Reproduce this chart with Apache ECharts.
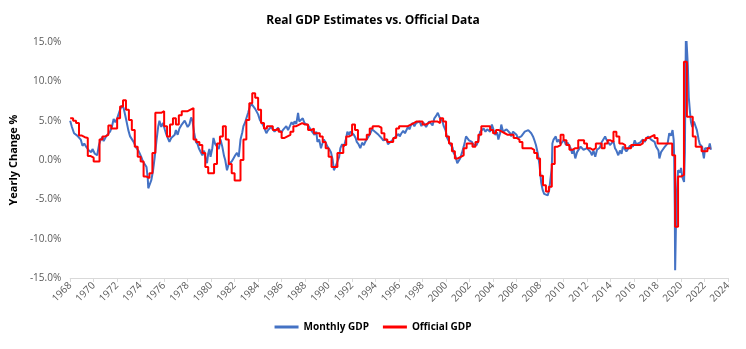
<!DOCTYPE html>
<html>
<head>
<meta charset="utf-8">
<script src="https://cdn.jsdelivr.net/npm/echarts@6/dist/echarts.min.js"></script>
<style>
  html, body { margin: 0; padding: 0; background: #fff; }
  #chart { width: 746px; height: 349px; }
</style>
</head>
<body>
<div id="chart"></div>
<script>
// Monthly GDP estimate, year-over-year change (%), as [decimal year] / [value]
const monthlyYears = [
  1968.0,1968.15,1968.33,1968.6,1968.9,1969.05,1969.2,1969.4,1969.6,1969.8,1969.9,1970.1,1970.3,1970.45,1970.6,1970.75,1970.85,
  1971.1,1971.25,1971.4,1971.55,1971.7,1971.85,1972.0,1972.25,1972.4,1972.55,1972.7,1972.8,1972.95,1973.1,1973.25,1973.4,1973.55,
  1973.65,1973.8,1973.9,1974.05,1974.2,1974.35,1974.5,1974.6,1974.65,1974.75,1974.9,1975.05,1975.2,1975.35,1975.5,1975.6,1975.75,
  1975.9,1976.05,1976.2,1976.35,1976.45,1976.6,1976.75,1976.9,1977.0,1977.15,1977.3,1977.45,1977.6,1977.75,1977.85,1978.0,1978.15,
  1978.3,1978.4,1978.55,1978.7,1978.85,1978.95,1979.1,1979.25,1979.4,1979.5,1979.65,1979.75,1979.85,1979.95,1980.1,1980.2,1980.35,
  1980.5,1980.65,1980.8,1980.95,1981.1,1981.2,1981.35,1981.5,1981.6,1981.75,1981.9,1982.05,1982.2,1982.35,1982.5,1982.65,1982.75,
  1982.9,1983.0,1983.15,1983.3,1983.45,1983.6,1983.75,1983.9,1984.0,1984.15,1984.3,1984.4,1984.55,1984.7,1984.85,1984.95,1985.1,
  1985.25,1985.4,1985.55,1985.7,1985.8,1986.0,1986.1,1986.25,1986.4,1986.55,1986.7,1986.85,1987.0,1987.1,1987.25,1987.4,1987.5,
  1987.65,1987.8,1987.95,1988.1,1988.25,1988.4,1988.5,1988.65,1988.8,1988.95,1989.05,1989.2,1989.35,1989.45,1989.6,1989.75,1989.9,
  1990.05,1990.2,1990.35,1990.45,1990.6,1990.75,1990.9,1991.0,1991.15,1991.3,1991.45,1991.6,1991.75,1991.85,1992.0,1992.15,1992.3,
  1992.4,1992.55,1992.7,1992.85,1993.0,1993.15,1993.25,1993.4,1993.55,1993.7,1993.8,1993.95,1994.1,1994.25,1994.4,1994.5,1994.65,
  1994.8,1994.95,1995.05,1995.2,1995.35,1995.5,1995.65,1995.8,1995.95,1996.05,1996.2,1996.35,1996.5,1996.6,1996.75,1996.9,1997.0,
  1997.15,1997.3,1997.45,1997.6,1997.75,1997.9,1998.05,1998.15,1998.3,1998.45,1998.55,1998.7,1998.85,1999.0,1999.15,1999.3,1999.45,
  1999.55,1999.7,1999.8,1999.95,2000.1,2000.25,2000.4,2000.55,2000.65,2000.8,2000.95,2001.05,2001.2,2001.35,2001.5,2001.6,2001.7,
  2001.8,2001.95,2002.05,2002.2,2002.35,2002.5,2002.6,2002.75,2002.9,2003.05,2003.2,2003.35,2003.5,2003.6,2003.75,2003.9,2004.05,
  2004.2,2004.35,2004.45,2004.6,2004.7,2004.85,2005.0,2005.15,2005.3,2005.45,2005.55,2005.7,2005.85,2006.0,2006.1,2006.25,2006.4,
  2006.55,2006.7,2006.85,2007.0,2007.15,2007.25,2007.4,2007.5,2007.65,2007.8,2007.95,2008.1,2008.22,2008.35,2008.5,2008.65,2008.78,
  2008.9,2009.0,2009.05,2009.15,2009.34,2009.45,2009.6,2009.75,2009.9,2010.05,2010.2,2010.35,2010.46,2010.6,2010.74,2010.85,2011.0,
  2011.15,2011.3,2011.45,2011.58,2011.7,2011.86,2012.0,2012.14,2012.3,2012.42,2012.55,2012.7,2012.85,2012.98,2013.1,2013.26,2013.4,
  2013.54,2013.65,2013.82,2013.95,2014.1,2014.25,2014.38,2014.5,2014.66,2014.8,2014.94,2015.05,2015.22,2015.35,2015.5,2015.65,
  2015.78,2015.9,2016.06,2016.2,2016.34,2016.5,2016.62,2016.75,2016.9,2017.05,2017.18,2017.3,2017.45,2017.6,2017.75,2017.88,2018.0,
  2018.08,2018.16,2018.3,2018.44,2018.58,2018.72,2018.86,2019.0,2019.15,2019.28,2019.38,2019.42,2019.47,2019.5,2019.56,2019.65,
  2019.75,2019.84,2019.92,2020.0,2020.12,2020.26,2020.33,2020.38,2020.42,2020.5,2020.58,2020.66,2020.77,2020.85,2020.96,2021.1,
  2021.25,2021.35,2021.5,2021.6,2021.7,2021.8,2021.88,2021.95,2022.05,2022.2,2022.35,2022.45,2022.55
];
const monthlyValues = [
  5.0,4.2,3.4,3.1,2.6,1.8,2.1,1.6,1.2,1.0,1.4,0.8,0.6,1.9,2.6,2.9,2.4,
  3.1,3.3,3.6,4.2,5.2,4.8,5.3,6.4,6.9,6.6,5.6,4.9,3.8,3.0,2.9,2.3,1.8,
  1.5,1.2,0.9,0.4,-0.2,-0.4,-0.9,-2.2,-3.6,-3.2,-2.6,-1.4,0.4,2.5,4.3,5.0,4.2,
  4.7,3.9,3.2,3.0,2.3,2.8,2.6,3.2,3.8,3.2,4.0,4.4,4.5,5.0,4.9,4.2,4.5,
  5.4,5.1,3.5,2.3,2.0,1.5,1.6,0.6,1.2,0.4,-0.4,0.8,1.4,0.4,1.5,2.8,2.0,
  2.1,1.4,2.6,1.7,0.5,0.0,-1.3,-0.5,-0.4,-0.2,0.2,0.6,0.9,0.4,2.6,3.5,4.3,
  4.8,5.3,6.0,6.8,7.1,7.0,6.5,6.4,5.8,5.1,4.9,4.5,4.0,3.4,3.8,3.8,4.2,
  4.0,3.6,3.6,4.1,3.8,3.5,3.8,3.6,4.3,3.8,4.3,4.8,4.5,4.9,4.6,6.0,4.9,
  5.1,5.3,4.7,4.9,4.4,4.3,3.8,3.6,3.2,3.6,2.3,2.6,1.5,2.0,2.6,2.2,1.7,
  1.4,1.0,0.0,-1.3,-0.8,-0.2,0.4,1.5,2.0,1.7,2.5,3.6,3.2,3.6,3.4,3.2,2.8,
  2.3,2.0,1.5,2.2,1.9,2.4,2.6,3.0,3.4,3.9,3.8,3.6,3.4,3.2,3.0,2.8,2.5,
  2.3,2.6,2.0,1.9,2.4,2.6,2.9,2.7,3.3,3.0,3.4,3.7,3.4,3.6,4.2,3.9,4.4,
  4.7,4.3,4.7,4.5,4.9,4.3,4.8,4.9,4.2,4.3,4.9,4.7,4.4,5.3,5.6,6.0,5.4,
  5.5,4.9,4.3,3.8,2.8,2.6,1.9,1.6,0.9,0.5,-0.4,-0.2,0.2,0.9,1.7,2.3,3.0,
  3.0,2.5,2.6,2.3,1.9,1.9,1.9,2.5,3.6,3.4,4.0,3.6,3.9,3.8,3.6,4.5,3.8,
  3.2,3.5,2.6,3.4,4.5,3.6,3.4,3.9,3.8,3.4,3.0,3.6,3.4,3.2,2.8,3.0,3.0,
  3.2,3.6,3.5,3.8,3.6,3.4,3.0,2.6,1.9,0.9,-0.6,-2.9,-3.8,-4.3,-4.2,-4.5,-3.8,
  -3.6,-1.0,2.1,2.6,3.0,2.3,2.6,2.0,2.1,2.6,1.9,2.2,2.1,1.5,0.8,1.4,0.2,
  1.0,1.1,1.7,1.7,1.3,1.1,1.5,1.5,1.0,0.6,1.2,0.4,1.3,1.1,1.6,2.3,2.4,
  3.0,2.6,2.5,1.9,1.9,2.4,1.5,1.2,0.6,1.2,0.8,1.7,1.5,1.1,1.3,1.8,
  1.9,1.7,2.5,2.0,1.9,2.2,2.3,2.6,2.3,2.5,3.0,2.8,2.6,2.5,2.3,1.7,1.9,
  1.2,0.2,1.0,1.3,1.6,1.7,2.1,3.4,3.1,3.8,2.5,0.0,-6.0,-14.0,-9.0,-4.0,
  -1.3,-1.3,-1.6,-1.0,-2.2,-2.8,1.0,10.0,16.5,16.5,12.0,8.0,6.0,4.8,4.2,4.9,
  4.7,3.8,2.6,2.0,1.8,1.7,0.8,0.2,1.5,1.3,1.5,2.1,1.3
];

// Official GDP, year-over-year change (%), one value per quarter from 1968 Q1
const officialStartYear = 1968;
const officialValues = [
  5.3,5.0,4.7,3.1,  2.9,2.8,0.5,0.3,  -0.2,-0.2,2.6,3.0,  3.2,4.4,4.0,4.0,
  5.3,6.8,7.6,6.4,  5.1,3.8,1.7,0.4,  -0.2,-2.1,-2.3,-1.7, 0.9,6.0,6.0,6.2,
  4.3,3.0,4.5,5.3,  4.5,5.7,6.2,6.2,  6.4,6.6,2.6,2.3,  1.9,0.9,-0.9,-1.7,
  -1.7,-0.5,2.1,3.0, 4.3,2.6,-0.5,-1.7, -2.6,-2.6,0.0,2.6, 5.1,7.2,8.5,7.9,
  6.4,4.7,4.0,4.3,  4.3,3.8,4.0,3.6,  2.8,3.0,3.2,3.6,  4.3,4.5,4.7,4.5,
  4.5,3.8,4.0,3.4,  3.4,3.0,2.3,1.5,  0.4,-0.9,-0.9,0.9, 0.9,1.9,3.0,3.2,
  4.5,3.8,2.6,2.6,  2.6,3.2,4.0,4.3,  4.3,4.1,3.4,2.6,  2.3,2.3,2.8,4.0,
  4.3,4.3,4.3,4.5,  4.7,4.9,4.9,4.9,  4.5,4.7,4.9,4.9,  4.9,4.7,5.3,4.9,
  3.0,2.1,1.1,0.2,  0.4,0.6,1.5,2.1,  2.1,1.7,2.3,3.2,  4.3,4.3,4.3,3.8,
  3.4,3.8,3.6,3.4,  3.2,3.2,3.2,2.8,  2.6,2.3,1.5,1.5,  1.5,1.3,0.9,0.2,
  -2.0,-3.2,-4.0,-3.4, -0.5,1.7,1.9,3.2, 2.5,1.9,1.3,1.5, 1.5,2.5,2.5,2.1,
  1.5,1.3,1.5,2.1,  2.1,1.5,2.1,2.5,  2.3,3.6,3.0,2.1,  1.9,1.5,1.5,1.9,
  1.9,1.9,2.1,2.5,  2.8,3.0,3.2,2.8,  2.1,2.1,2.1,2.1,  2.1,0.6,-8.5,-2.1,
  -1.9,12.5,5.5,5.5, 3.0,1.7,1.7,1.1, 1.1,1.5,1.5
];

// Axis settings
const yearMin = 1968, yearMax = 2024, yearStep = 2;
const pctMin = -15, pctMax = 15, pctStep = 5;

const monthlyData = monthlyYears.map((y, i) => [y, monthlyValues[i]]);
const officialData = officialValues.map((v, i) => [officialStartYear + i / 4, v]);

const chart = echarts.init(document.getElementById('chart'), null, { renderer: 'canvas' });
const gray = '#595959';
chart.setOption({
  animation: false,
  backgroundColor: '#ffffff',
  title: {
    text: 'Real GDP Estimates vs. Official Data',
    left: 'center',
    top: 10,
    textStyle: { fontFamily: 'Open Sans', fontWeight: 'bold', fontSize: 12, color: '#000' }
  },
  grid: { left: 61, right: 18, top: 42, bottom: 71, containLabel: false },
  xAxis: [
    {
      type: 'value', min: yearMin, max: yearMax, interval: yearStep,
      axisLine: { show: false },
      axisTick: { show: false },
      splitLine: { show: false },
      axisLabel: {
        rotate: 45, color: gray, fontSize: 10, fontFamily: 'Open Sans',
        margin: 6, formatter: v => String(v)
      }
    },
    {
      type: 'value', min: yearMin, max: yearMax, interval: yearStep,
      position: 'bottom',
      axisLine: { show: true, onZero: true, lineStyle: { color: '#d9d9d9', width: 1 } },
      axisTick: { show: true, length: 4, lineStyle: { color: '#d9d9d9' } },
      axisLabel: { show: false },
      splitLine: { show: false }
    }
  ],
  yAxis: {
    type: 'value', min: pctMin, max: pctMax, interval: pctStep,
    name: 'Yearly Change %',
    nameLocation: 'middle',
    nameGap: 46,
    nameTextStyle: { fontFamily: 'Open Sans', fontWeight: 'bold', fontSize: 11, color: '#000' },
    axisLine: { show: false },
    axisTick: { show: false },
    splitLine: { show: false },
    axisLabel: {
      color: gray, fontSize: 10, fontFamily: 'Open Sans', margin: 9,
      formatter: v => v.toFixed(1) + '%'
    }
  },
  legend: {
    bottom: 12,
    left: 'center',
    itemWidth: 24,
    itemHeight: 3,
    itemGap: 14,
    icon: 'rect',
    textStyle: { fontFamily: 'Open Sans', fontWeight: 'bold', fontSize: 10, color: '#000' },
    data: ['Monthly GDP', 'Official GDP']
  },
  series: [
    {
      name: 'Monthly GDP', type: 'line', xAxisIndex: 0,
      data: monthlyData, showSymbol: false, symbol: 'none',
      lineStyle: { color: '#4472C4', width: 2 }, itemStyle: { color: '#4472C4' },
      clip: true, z: 2
    },
    {
      name: 'Official GDP', type: 'line', xAxisIndex: 0,
      data: officialData, showSymbol: false, symbol: 'none', step: 'end',
      lineStyle: { color: '#FF0000', width: 2 }, itemStyle: { color: '#FF0000' },
      clip: true, z: 3
    }
  ]
});
</script>
</body>
</html>
